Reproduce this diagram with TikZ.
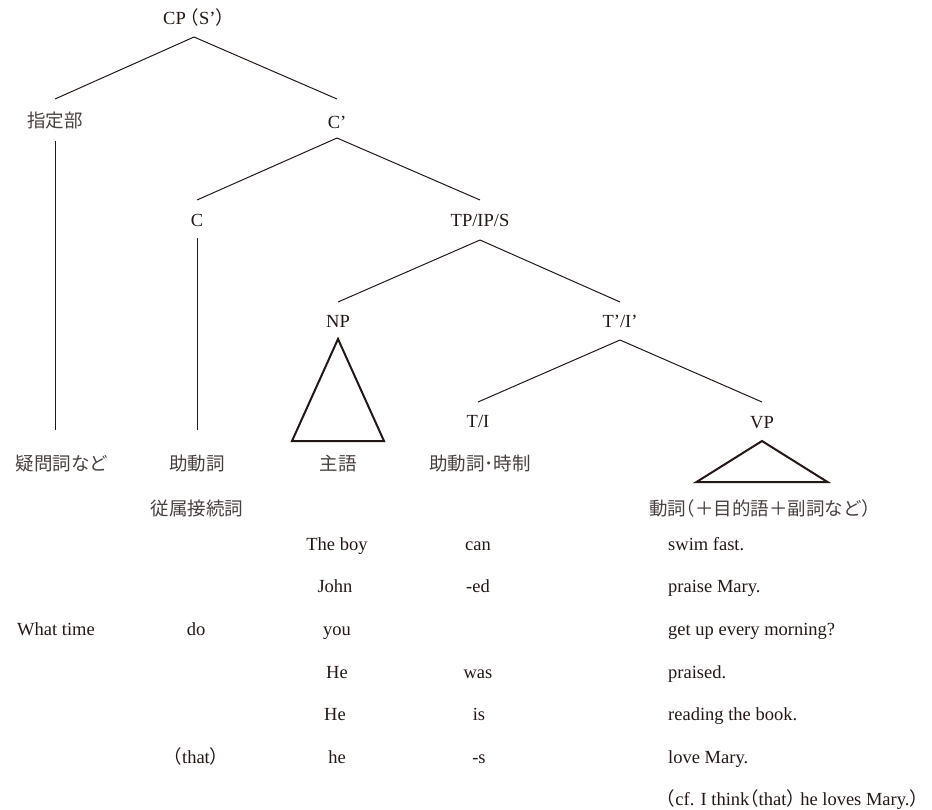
\documentclass[tikz,border=0pt]{standalone}
\usepackage{fontspec}
\setmainfont{Liberation Serif}
\newfontfamily\jp{Noto Sans CJK JP}
\newfontfamily\jph{Noto Sans CJK JP}[RawFeature=+halt]
\usetikzlibrary{calc}
\definecolor{ink}{RGB}{35,24,21}
\definecolor{jink}{RGB}{72,64,62}
\newcommand{\J}[1]{{\jp\color{jink}#1}}
\newcommand{\lp}{{\jph（}}
\newcommand{\rp}{{\jph）}}
\begin{document}
\begin{tikzpicture}[x=1pt,y=-1pt,
  lbl/.style={inner sep=0pt,anchor=base,text=ink,font=\fontsize{18.5}{22}\selectfont},
  ex/.style={lbl},
  exl/.style={lbl,anchor=base west},
  edge/.style={draw=ink,line width=1pt},
  tri/.style={draw=ink,line width=2pt,line join=miter}]
\useasboundingbox (0,0) rectangle (932,809);

% tree labels
\node[lbl] (cp)   at (194,24.5) {CP\hspace{4pt}\lp S’\rp};
\node[lbl] (spec) at (55,127)   {\J{指定部}};
\node[lbl] (cbar) at (337,128.5){C’};
\node[lbl] (c)    at (197,226)  {C};
\node[lbl] (tp)   at (480,226)  {TP/IP/S};
\node[lbl] (np)   at (338,327)  {NP};
\node[lbl] (tbar) at (620,327)  {T’/I’};
\node[lbl] (ti)   at (478,427)  {T/I};
\node[lbl] (vp)   at (762,428)  {VP};

% category glosses
\node[lbl] (wh)    at (62,470)  {\J{疑問詞など}};
\node[lbl] (aux)   at (197,470) {\J{助動詞}};
\node[lbl] (subj)  at (338,470) {\J{主語}};
\node[lbl] (tense) at (480,470) {\J{助動詞･時制}};
\node[lbl] (sub)   at (197,515) {\J{従属接続詞}};
\node[lbl] (verb)  at (760,515) {\J{動詞{\jph（}＋目的語＋副詞など{\jph）}}};

% branches
\draw[edge] ([yshift=-12.5pt]cp.base) -- ([yshift=28pt]spec.base);
\draw[edge] ([yshift=-12.5pt]cp.base) -- ([yshift=29.5pt]cbar.base);
\draw[edge] ([yshift=-14pt]spec.base) -- ($(spec.base |- wh.base)+(0,-40)$);
\draw[edge] ([yshift=-9.5pt]cbar.base) -- ([yshift=26pt]c.base);
\draw[edge] ([yshift=-9.5pt]cbar.base) -- ([yshift=26pt]tp.base);
\draw[edge] ([yshift=-12pt]c.base) -- ($(c.base |- aux.base)+(0,-40)$);
\draw[edge] ([yshift=-14pt]tp.base) -- ([yshift=25pt]np.base);
\draw[edge] ([yshift=-14pt]tp.base) -- ([yshift=25pt]tbar.base);
\draw[edge] ([yshift=-13pt]tbar.base) -- ([yshift=25pt]ti.base);
\draw[edge] ([yshift=-13pt]tbar.base) -- ([yshift=26pt]vp.base);

% triangles
\draw[tri] ([yshift=-12pt]np.base) -- ($(np.base)+(-46,114)$) -- ($(np.base)+(46,114)$) -- cycle;
\draw[tri] ([yshift=-13pt]vp.base) -- ($(vp.base)+(-65.5,54)$) -- ($(vp.base)+(65.5,54)$) -- cycle;

% example sentences
\node[ex]  (s1c) at (337,550)   {The boy};
\node[ex]  (s1d) at (478,550)   {can};
\node[exl] (s1e) at (668,550)   {swim fast.};

\node[ex]  (s2c) at (335,592.5) {John};
\node[ex]  (s2d) at (478,592.5) {-ed};
\node[exl] (s2e) at (668,592.5) {praise Mary.};

\node[ex]  (s3a) at (56,635)    {What time};
\node[ex]  (s3b) at (196,635)   {do};
\node[ex]  (s3c) at (337,635)   {you};
\node[exl] (s3e) at (668,635)   {get up every morning?};

\node[ex]  (s4c) at (337,678)   {He};
\node[ex]  (s4d) at (478,678)   {was};
\node[exl] (s4e) at (668,678)   {praised.};

\node[ex]  (s5c) at (335,720.5) {He};
\node[ex]  (s5d) at (479,720.5) {is};
\node[exl] (s5e) at (668,720.5) {reading the book.};

\node[ex]  (s6b) at (196,763)   {\lp that\rp};
\node[ex]  (s6c) at (337,763)   {he};
\node[ex]  (s6d) at (479,763)   {-s};
\node[exl] (s6e) at (668,763)   {love Mary.};

\node[exl] (cf)  at (666,805.5) {\lp cf. I think\lp that\rp\ he loves Mary.\rp};
\end{tikzpicture}
\end{document}
